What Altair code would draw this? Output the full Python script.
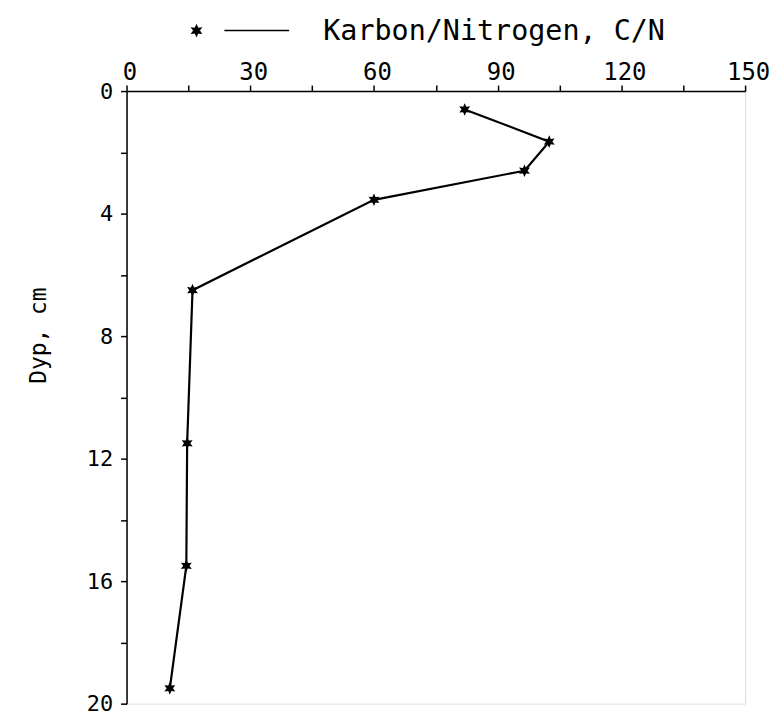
import altair as alt
import pandas as pd

cn_ratio = [82, 102.5, 96.5, 60, 16, 14.7, 14.5, 10.5]
depth_cm = [0.6, 1.65, 2.6, 3.55, 6.5, 11.5, 15.5, 19.5]
series_name = "Karbon/Nitrogen, C/N"
x_ticks = [0, 15, 30, 45, 60, 75, 90, 105, 120, 135, 150]
y_ticks = [0, 2, 4, 6, 8, 10, 12, 14, 16, 18, 20]

df = pd.DataFrame({"cn": cn_ratio, "depth": depth_cm, "series": [series_name] * len(cn_ratio)})

FONT = "DejaVu Sans Mono"
STAR = ("M0,-1L0.25,-0.433L0.866,-0.5L0.5,0L0.866,0.5L0.25,0.433L0,1L-0.25,0.433"
        "L-0.866,0.5L-0.5,0L-0.866,-0.5L-0.25,-0.433Z")
LEGEND_SYMBOL = STAR + "M5.6,0L18.6,0"

x_enc = alt.X("cn:Q", scale=alt.Scale(domain=[0, 150], nice=False, zero=False),
              axis=alt.Axis(orient="top", values=x_ticks, title=None,
                            labelExpr="datum.value % 30 == 0 ? datum.label : ''",
                            grid=False, domainColor="black", domainWidth=1.5,
                            tickColor="black", tickWidth=1.5, tickSize=6,
                            labelFont=FONT, labelFontSize=24, labelColor="black",
                            labelPadding=1, labelOffset=3, labelFlush=False,
                            labelOverlap=False))
y_enc = alt.Y("depth:Q", scale=alt.Scale(domain=[0, 20], reverse=True, nice=False, zero=False),
              axis=alt.Axis(values=y_ticks, title="Dyp, cm",
                            labelExpr="datum.value % 4 == 0 ? datum.label : ''",
                            grid=False, domainColor="black", domainWidth=1.5,
                            tickColor="black", tickWidth=1.5, tickSize=6,
                            labelFont=FONT, labelFontSize=22, labelColor="black",
                            labelPadding=8, labelFlush=False, labelOverlap=False,
                            titleFont=FONT, titleFontSize=23, titleFontWeight="normal",
                            titleColor="black", titlePadding=36, titleY=245))
color_enc = alt.Color("series:N", scale=alt.Scale(domain=[series_name], range=["black"]),
                      legend=alt.Legend(orient="none", legendX=56, legendY=-75, title=None,
                                        symbolType=LEGEND_SYMBOL, symbolSize=100,
                                        symbolFillColor="black", symbolStrokeColor="black",
                                        symbolStrokeWidth=1.5, labelOffset=113, labelLimit=600,
                                        labelFont=FONT, labelFontSize=28.5, labelColor="black"))

line = alt.Chart(df).mark_line(color="black", strokeWidth=2.2).encode(
    x=x_enc, y=y_enc, order=alt.Order("depth:Q"))
points = alt.Chart(df).mark_point(shape=STAR, filled=True, size=160, opacity=1,
                                  strokeWidth=1).encode(
    x=x_enc, y=y_enc, color=color_enc)

chart = (line + points).properties(
    width=621, height=615,
    autosize=alt.AutoSizeParams(type="none"),
    padding={"left": 119, "top": 82, "right": 24, "bottom": 11},
).configure_view(stroke="black", strokeWidth=1.5).configure(background="white")

chart.save("out.html", embed_options={"renderer": "svg", "actions": False})
